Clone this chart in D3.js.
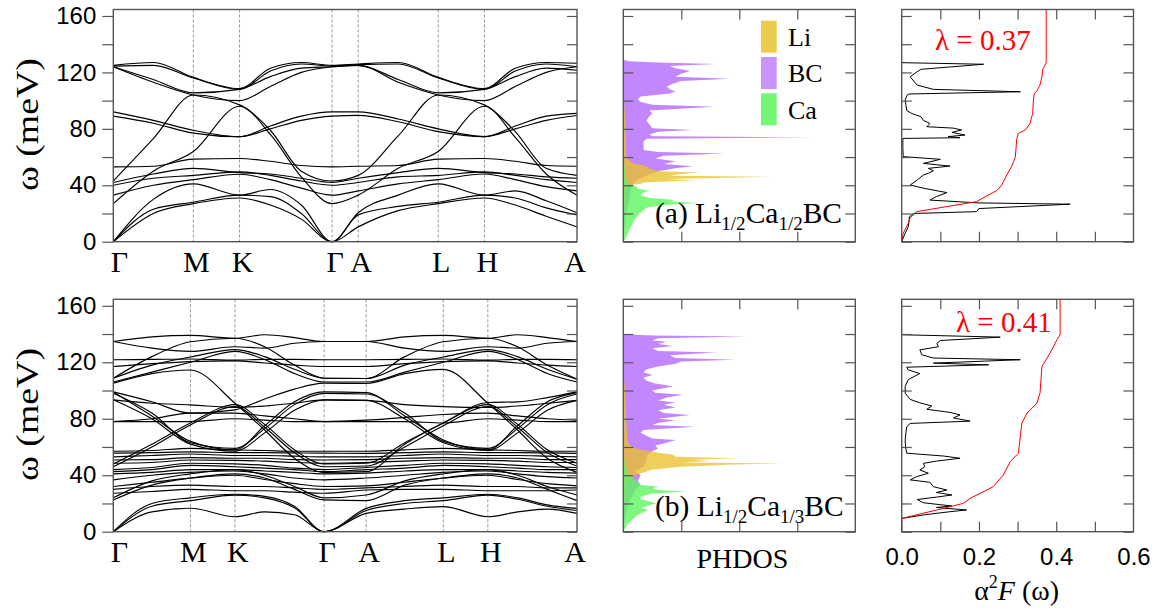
<!DOCTYPE html>
<html><head><meta charset="utf-8">
<script src="https://cdn.jsdelivr.net/npm/d3@7"></script>
<style>body{margin:0;background:#fff}svg{display:block}</style>
</head><body>
<svg id="c" width="1162" height="616"></svg>
<script>
// ---------------- DATA ----------------
const kLabels = ["Γ","M","K","Γ","A","L","H","A"];
const kSymTop = [0,0.577,0.91,1.577,1.765,2.342,2.675,3.342];
const kSymBot = [0,0.577,0.91,1.577,1.8915,2.4685,2.8015,3.4685];
const kTop = [0,0.2885,0.577,0.91,1.132,1.355,1.577,1.765,2.0535,2.342,2.675,2.897,3.12,3.342];
const kBot = [0,0.2885,0.577,0.91,1.132,1.355,1.577,1.8915,2.18,2.4685,2.8015,3.0238,3.2462,3.4685];

// Li1/2Ca1/2BC phonon bands (meV) at kTop
const bandsTop = [
 [0,20,27,31,26,16,0,10.5,22,27,31,26,18,10.5],
 [0,23,28,33,32,20,0,19,25,28,33,31,24,19],
 [0,30,41,33,37,26,0,20.5,33,41,33,36,29,20.5],
 [27,50,64,96,76,46,27,33,52,64,96,74,48,33],
 [33,40,44,47.8,44,38,33,36,41,44,48,44,39,36],
 [40,45,47,49.5,47,43,40,42,46,47,49.5,47,44,42],
 [42,48,52,49,48,45,42,45,49,52,49,48,46,45],
 [43,73,104,97,79,50,43,47,75,104,97,78,52,47],
 [53,53.5,58.5,59,57,54,53,53.5,54,58.5,59,57,54,53.5],
 [89,84,77,74.4,80,86,89,89.5,85,78,74.5,80,86,89.5],
 [92,86,79,74.4,82,89,92,92,87,80,74.5,82,89,91],
 [124,113,104,100,110,120,124,125,113,104,100,110,120,124],
 [124,115,105.5,108,117,123,124,125,115,105.5,108,117,123,121.5],
 [124.5,125,116,108,121,126,124.5,125.5,126,116,108,121,126,124],
 [125,127,116.5,108.5,123,127,125,126,127,116.5,108.5,123,127,126.5]
];

// Li1/2Ca1/3BC phonon bands (meV) at kBot
const bandsBot = [
 [134.7,138,139,137,139.5,137.5,134.7,134.7,138,139,137,139.5,137.5,134.7],
 [134.7,130,127.7,131,130,133.5,134.7,134.7,130,127.7,131,130,133.5,134.7],
 [108.7,124,134.5,137,131,118,108.7,108.5,124,134.5,137,131,118,108],
 [108.7,118,123.7,129,124,115,108.7,108.5,118,123.7,129,124,115,108],
 [121.8,122,122.3,121.5,122,122,121.8,121.8,122,122.3,121.5,122,122,121.8],
 [117,119,120.5,121,119.5,118,117,117,119,120.5,121,119.5,118,117],
 [106,113,120,127.7,122,112,106,106,113,120,127.7,122,112,106],
 [105.2,112,114.5,91,72,52,42,42.5,62,77,90,76,58,48.5],
 [99,92,84,86.3,94,101,105.2,105,112,115,91,72,52,42],
 [99,82,64,58,75,92,99,98.5,82,65,58,75,92,98.5],
 [98,84,63,59,73,90,98,97.5,84,64,59,73,90,97.5],
 [93.4,80,62,57,70,86,93.4,93,80,63,57.5,70,86,93],
 [93.4,91,89.8,88,89,91,93.4,93,90,88.6,88,89,91,93],
 [48,62,77,90,76,58,48,48.5,63,77,91.5,92,95,99],
 [46,60,75.6,88.6,74,56,46,46.5,60,75,88.6,74,56,46.5],
 [78,78,78,80,79,78,78,78,78,77,80,79,78,78],
 [78,80,84,84,82,80,78,79,81,83,84,82,80,79],
 [57,57.5,59,57.9,57.5,57,57,57,58,59,58,57.5,57,57],
 [55.6,56,56.5,56,56,55.8,55.6,55.5,56,56.5,56,56,55.8,55.5],
 [53,54,55,54,54,53.5,53,53,54,55,54,54,53.5,53],
 [50.8,51,52.5,52,52,51,50.8,51,52,52.5,52,52,51,51],
 [48.5,49,50.8,50.5,50,49,48.5,49,50,50.8,50.5,50,49,49],
 [44,45.5,48.5,48,47,45,44,45.5,47,48.5,48,47,46,45.5],
 [42.5,44,47,46,45,44,42.5,44,45,47,46,45,44,44],
 [41,42,44,44,43,42,41,41.5,43,44,44,43,42,41.5],
 [36.7,40,42,43,41,38,36.7,38,40,42,43,41,39,38],
 [32,35,38,40,37,34,32,32.5,35,38,40,37,34,32.5],
 [30,32,33,32,32,31,30,31,32,33,32,32,31,31],
 [27.2,28.5,30,29,29,28,27.2,29.5,30,30,29,29,29,29.5],
 [24,36,41,44,40,32,24,26,36,41,44,40,32,26],
 [22.5,33,38,41,38,30,22.5,22,33,38,41,38,30,22],
 [0,14,16.6,10.6,14,12,0,13,16,17.8,10.6,14,16,13],
 [0,18,22,25.9,24,17,0,15,20,22,25.9,23,18,15],
 [0,20,24,26.5,25,18,0,16.5,22,24,26.5,24,19,16.5]
];

// PHDOS [energy meV, density]
const dosBC_a = [[0,0],[10,0.02],[20,0.05],[25,0.08],[30,0.1],[35,0.12],[40,0.15],[44,0.25],[47,0.4],[50,0.6],[52,0.9],[53.5,1.2],[55,0.7],[57,0.9],[59,0.55],[61,0.7],[62.5,1.75],[63.5,0.6],[65,0.35],[68,0.35],[71,0.35],[73,0.4],[74,3.28],[74.8,0.5],[76,0.45],[78,0.6],[79.2,1.2],[80.5,0.5],[83,0.45],[86,0.4],[89,0.45],[91,0.5],[93,0.45],[95.7,1.58],[97,0.5],[99,0.3],[101,0.25],[103,0.3],[105,0.8],[106.5,0.9],[108,0.8],[110,0.75],[112,0.85],[114,1.0],[115.5,1.84],[117,0.9],[119,1.0],[121,1.15],[123,0.9],[124.5,0.8],[126,1.6],[127,0.6],[128,0.1],[129,0]];
const dosLi_a = [[0,0],[20,0.02],[35,0.03],[40,0.1],[41,0.3],[42,0.35],[43.5,1.26],[44.5,0.7],[46,2.6],[46.8,0.8],[48,1.0],[49,1.32],[50,0.6],[52,0.45],[54,0.35],[56,0.15],[60,0.05],[70,0.05],[80,0.04],[90,0.03],[100,0.01],[110,0]];
const dosCa_a = [[0,0],[3,0.05],[8,0.1],[12,0.15],[16,0.2],[20,0.28],[24,0.4],[26,0.7],[27.5,1.3],[28.5,0.8],[29.5,0.9],[31,0.45],[33,0.3],[35,0.35],[36.2,0.46],[37.5,0.25],[39,0.23],[41,0.1],[44,0.05],[50,0.03],[60,0]];
const dosBC_b = [[0,0],[10,0.03],[20,0.08],[25,0.15],[30,0.2],[33,0.3],[36,0.25],[40,0.3],[43,0.2],[46,0.35],[50,0.4],[54,0.4],[57,0.5],[59,0.6],[61,0.55],[63,0.75],[65,0.9],[66,0.5],[68,0.4],[70,0.3],[72,0.35],[74.4,1.24],[75.5,0.5],[77,0.6],[79,0.9],[80,0.6],[82.7,1.15],[84,0.7],[86,0.6],[88,0.9],[90,0.7],[91.5,0.9],[93,0.6],[95,0.75],[97,1.03],[98.5,0.55],[100,0.5],[103,0.86],[105,0.55],[107,0.4],[109,0.35],[111,0.5],[113,0.35],[115,0.4],[117,0.6],[119,0.9],[120.5,1.0],[121.8,1.93],[123,0.9],[125,0.8],[127,1.6],[128,0.6],[130,0.5],[131.5,0.85],[133,0.6],[134.5,0.75],[135.5,0.5],[137,0.6],[138.3,2.13],[139,0.5],[139.8,0]];
const dosLi_b = [[0,0],[20,0.02],[30,0.03],[36,0.08],[40,0.2],[42,0.35],[44,0.5],[46,1.0],[47.5,1.78],[48.3,2.73],[49,1.0],[50,1.5],[51,1.2],[52.1,1.95],[53,0.9],[54.5,0.86],[56,0.6],[58,0.3],[60,0.15],[63,0.08],[70,0.06],[80,0.05],[90,0.04],[100,0.03],[110,0.01],[115,0]];
const dosCa_b = [[0,0],[3,0.04],[6,0.08],[8.3,0.15],[12,0.25],[15.4,0.43],[17,0.3],[20.1,0.57],[23,0.3],[25,0.3],[27,0.5],[28.4,1.09],[29.5,0.6],[31,0.5],[31.9,0.63],[33,0.3],[35,0.25],[37,0.2],[40,0.1],[45,0.05],[50,0.02],[55,0]];

// Eliashberg a2F [energy meV, value] and lambda(omega)
const a2F_a = [[0,0],[6,0.009],[10.6,0.017],[17.7,0.02],[20,0.03],[21.3,0.194],[23.5,0.2],[26.6,0.436],[27.5,0.2],[29.5,0.073],[32,0.09],[34.8,0.117],[37.7,0.06],[40.2,0.022],[43.7,0.04],[47.3,0.056],[48.5,0.069],[50.3,0.082],[52,0.069],[53.6,0.125],[55.5,0.056],[58.4,0.1],[60.3,0.004],[66,0.003],[73.2,0.003],[73.7,0.151],[74.5,0.12],[75.6,0.164],[77.5,0.13],[79.2,0.155],[80.5,0.134],[81.5,0.065],[83.8,0.073],[86,0.056],[88.6,0.05],[90.9,0.026],[93,0.013],[100.5,0.009],[103.3,0.013],[104.7,0.017],[106.3,0.307],[108,0.082],[111,0.04],[116.9,0.022],[120.5,0.04],[122.2,0.05],[125.8,0.212],[126.9,0]];
const lambda_a = [[0,0],[6,0.004],[13,0.017],[17,0.022],[21.3,0.039],[24.9,0.117],[28.4,0.194],[31.9,0.216],[36.2,0.246],[40.2,0.259],[47.3,0.272],[53.6,0.285],[59.8,0.294],[73.2,0.298],[76.8,0.302],[79.2,0.32],[83.8,0.332],[90.9,0.339],[100.5,0.341],[104.7,0.343],[107,0.35],[111,0.358],[116.9,0.363],[122.2,0.365],[125.2,0.371],[126.9,0.374],[164.6,0.374]];
const a2F_b = [[0,0],[9.4,0],[12,0.06],[14,0.12],[15.4,0.168],[16.6,0.112],[17.2,0.09],[18.2,0.13],[20.5,0.056],[22.8,0.04],[24.5,0.09],[26,0.13],[27.8,0.09],[29.5,0.117],[31.9,0.082],[35,0.073],[36.7,0.022],[39,0.039],[41.4,0.069],[43.7,0.047],[46,0.06],[48.4,0.056],[50,0.09],[52,0.151],[53.6,0.108],[55.6,0.013],[60,0.01],[65,0.009],[70,0.011],[74.4,0.013],[76.7,0.022],[78.3,0.177],[80.6,0.134],[82.7,0.151],[84.5,0.125],[86.7,0.065],[89,0.078],[91.3,0.047],[93.7,0.022],[98.1,0.009],[103,0.009],[107.8,0.017],[112,0.047],[114.6,0.017],[116.5,0.013],[118.2,0.225],[119.4,0.082],[121.8,0.307],[123,0.082],[125.3,0.052],[128.8,0.047],[131,0.095],[133.3,0.091],[135.4,0.1],[137.8,0.255],[139.5,0]];
const lambda_b = [[0,0],[9.4,0],[15.4,0.091],[20.1,0.16],[23.6,0.177],[31.9,0.237],[40.2,0.263],[49.6,0.281],[55.6,0.302],[76.8,0.311],[83.9,0.324],[91,0.35],[98.1,0.358],[117,0.363],[126.5,0.384],[136,0.402],[139.5,0.41],[164.6,0.41]];

const lambdaText = ["λ = 0.37","λ = 0.41"];
const legendItems = ["Li","BC","Ca"];
const yTicks = [0,20,40,60,80,100,120,140,160];
const a2fTickLabels = [0,0.2,0.4,0.6];

// ---------------- LAYOUT / STYLE ----------------
const yMax = 164.6;
const bandX = [113.3,577];
const dosX = [623.3,855.3];
const a2fX = [901.7,1133.5];
const rows = [[9.5,241.7],[299.3,531.7]];
const serif = "'Liberation Serif','Times New Roman',serif";
const sans = "'Liberation Sans',Arial,sans-serif";
const frameC = "#555";
const colLi = "#E9C22A", colBC = "#BF7FFF", colCa = "#5CF55C";

const svg = d3.select("#c");

function styleAxis(g, fs){
  g.select(".domain").remove();
  g.selectAll(".tick line").attr("stroke",frameC).attr("stroke-width",1.2);
  g.attr("font-family",sans).attr("font-size",fs);
  g.selectAll(".tick text").attr("fill","#000");
}
function frame(x0,x1,y0,y1){
  svg.append("rect").attr("x",x0).attr("y",y0).attr("width",x1-x0).attr("height",y1-y0)
    .attr("fill","none").attr("stroke",frameC).attr("stroke-width",1.4);
}
function yInward(y, x0, x1){
  svg.append("g").attr("transform",`translate(${x0},0)`)
    .call(d3.axisLeft(y).tickValues(yTicks).tickSize(-10).tickFormat("")).call(g=>styleAxis(g,10));
  svg.append("g").attr("transform",`translate(${x1},0)`)
    .call(d3.axisRight(y).tickValues(yTicks).tickSize(-10).tickFormat("")).call(g=>styleAxis(g,10));
}
function xInward(x, vals, y0, y1){
  svg.append("g").attr("transform",`translate(0,${y0})`)
    .call(d3.axisTop(x).tickValues(vals).tickSize(-10).tickFormat("")).call(g=>styleAxis(g,10));
  svg.append("g").attr("transform",`translate(0,${y1})`)
    .call(d3.axisBottom(x).tickValues(vals).tickSize(-10).tickFormat("")).call(g=>styleAxis(g,10));
}

const panels = [
  {k:kTop, ks:kSymTop, bands:bandsTop, bc:dosBC_a, li:dosLi_a, ca:dosCa_a, a2f:a2F_a, lam:lambda_a, tag:"(a) ", sub2:"1/2"},
  {k:kBot, ks:kSymBot, bands:bandsBot, bc:dosBC_b, li:dosLi_b, ca:dosCa_b, a2f:a2F_b, lam:lambda_b, tag:"(b) ", sub2:"1/3"}
];

panels.forEach((p,i)=>{
  const [top,bot] = rows[i];
  const y = d3.scaleLinear([0,yMax],[bot,top]);

  // ---- band structure ----
  const xb = d3.scaleLinear([0,p.ks[p.ks.length-1]], bandX);
  svg.append("g").selectAll("line").data(p.ks.slice(1,-1)).join("line")
    .attr("x1",d=>xb(d)).attr("x2",d=>xb(d)).attr("y1",top).attr("y2",bot)
    .attr("stroke","#8a8a8a").attr("stroke-width",0.9).attr("stroke-dasharray","3,2");
  const bl = d3.line().x((d,j)=>xb(p.k[j])).y(d=>y(d)).curve(d3.curveMonotoneX);
  svg.append("g").selectAll("path").data(p.bands).join("path")
    .attr("d",bl).attr("fill","none").attr("stroke","#000").attr("stroke-width",1.15);
  frame(bandX[0],bandX[1],top,bot);
  svg.append("g").attr("transform",`translate(${bandX[0]},0)`)
    .call(d3.axisLeft(y).tickValues(yTicks).tickSize(11).tickPadding(6).tickFormat(d=>d%40===0?d:""))
    .call(g=>styleAxis(g,24));
  svg.append("g").attr("transform",`translate(${bandX[1]},0)`)
    .call(d3.axisRight(y).tickValues(yTicks).tickSize(-10).tickFormat("")).call(g=>styleAxis(g,10));
  svg.append("g").selectAll("text").data(p.ks).join("text")
    .attr("x",(d,j)=> xb(d) + (j===0?6:(j===p.ks.length-1?-2:3)))
    .attr("y",bot+30).attr("text-anchor","middle")
    .attr("font-family",serif).attr("font-size",30).text((d,j)=>kLabels[j]);
  svg.append("text").attr("transform",`translate(38,${(top+bot)/2-1}) rotate(-90)`)
    .attr("text-anchor","middle").attr("font-family",serif).attr("font-size",32)
    .attr("textLength",133).attr("lengthAdjust","spacingAndGlyphs").text("ω (meV)");

  // ---- PHDOS ----
  const xd = d3.scaleLinear([0,4], dosX);
  const ar = d3.area().y(d=>y(d[0])).x0(xd(0)).x1(d=>xd(d[1])).curve(d3.curveLinear);
  svg.append("path").datum(p.bc).attr("d",ar).attr("fill",colBC).attr("fill-opacity",0.95);
  svg.append("path").datum(p.li).attr("d",ar).attr("fill",colLi).attr("fill-opacity",0.78);
  svg.append("path").datum(p.ca).attr("d",ar).attr("fill",colCa).attr("fill-opacity",0.8);
  frame(dosX[0],dosX[1],top,bot);
  yInward(y, dosX[0], dosX[1]);
  xInward(xd,[1,2,3],top,bot);
  const lab = svg.append("text").attr("x",655).attr("y",i===0?223.3:515.5)
    .attr("font-family",serif).attr("font-size",29.5);
  lab.append("tspan").text(p.tag+"Li");
  lab.append("tspan").attr("font-size",19).attr("dy",7).text("1/2");
  lab.append("tspan").attr("dy",-7).text("Ca");
  lab.append("tspan").attr("font-size",19).attr("dy",7).text(p.sub2);
  lab.append("tspan").attr("dy",-7).text("BC");

  // ---- a2F ----
  const xa = d3.scaleLinear([0,0.6], a2fX);
  const ln = d3.line().x(d=>xa(d[1])).y(d=>y(d[0]));
  svg.append("path").datum(p.a2f).attr("d",ln).attr("fill","none").attr("stroke","#000").attr("stroke-width",1);
  svg.append("path").datum(p.lam).attr("d",ln).attr("fill","none").attr("stroke","#ff0000").attr("stroke-width",1);
  frame(a2fX[0],a2fX[1],top,bot);
  yInward(y, a2fX[0], a2fX[1]);
  xInward(xa,[0.1,0.2,0.3,0.4,0.5],top,bot);
  svg.append("text").attr("x", i===0?935:956).attr("y", i===0?50:331.5)
    .attr("font-family",serif).attr("font-size",29).attr("fill","#ff0000").text(lambdaText[i]);
  if(i===1){
    svg.append("g").attr("transform",`translate(0,${bot})`)
      .call(d3.axisBottom(xa).tickValues(a2fTickLabels).tickSize(0).tickPadding(16).tickFormat(d3.format(".1f")))
      .call(g=>styleAxis(g,24));
    svg.append("text").attr("x",(dosX[0]+dosX[1])/2+3).attr("y",568)
      .attr("text-anchor","middle").attr("font-family",serif).attr("font-size",28).text("PHDOS");
    const at = svg.append("text").attr("x",(a2fX[0]+a2fX[1])/2-1).attr("y",600)
      .attr("text-anchor","middle").attr("font-family",serif).attr("font-size",28);
    at.append("tspan").text("α");
    at.append("tspan").attr("font-size",18).attr("dy",-12).text("2");
    at.append("tspan").attr("dy",12).attr("font-style","italic").text("F");
    at.append("tspan").text(" (ω)");
  }
});

// ---- legend (top PHDOS) ----
const legCols = [colLi,colBC,colCa];
const lg = svg.append("g");
lg.selectAll("rect").data(legendItems).join("rect")
  .attr("x",761).attr("y",(d,j)=>20.7+j*36.3).attr("width",15.7).attr("height",32)
  .attr("fill",(d,j)=>legCols[j]).attr("fill-opacity",0.85);
lg.selectAll("text").data(legendItems).join("text")
  .attr("x",788).attr("y",(d,j)=>46+j*36.3)
  .attr("font-family",serif).attr("font-size",26).text(d=>d);
</script>
</body></html>
